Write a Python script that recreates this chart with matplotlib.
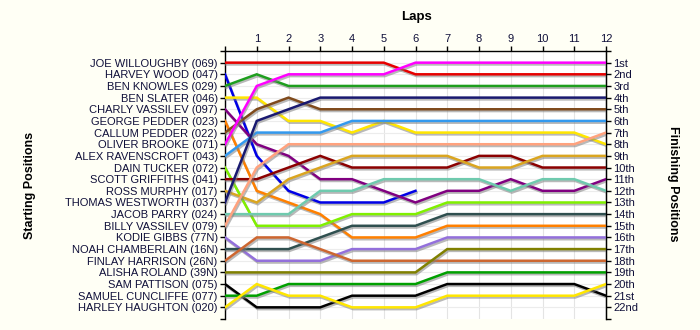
import numpy as np
import matplotlib

matplotlib.use("Agg")
import matplotlib.pyplot as plt
import matplotlib.patheffects as pe

nan = np.nan

laps = list(range(13))

drivers = [
    "JOE WILLOUGHBY (069)", "HARVEY WOOD (047)", "BEN KNOWLES (029)",
    "BEN SLATER (046)", "CHARLY VASSILEV (097)", "GEORGE PEDDER (023)",
    "CALLUM PEDDER (022)", "OLIVER BROOKE (071)", "ALEX RAVENSCROFT (043)",
    "DAIN TUCKER (072)", "SCOTT GRIFFITHS (041)", "ROSS MURPHY (017)",
    "THOMAS WESTWORTH (037)", "JACOB PARRY (024)", "BILLY VASSILEV (079)",
    "KODIE GIBBS (77N)", "NOAH CHAMBERLAIN (16N)", "FINLAY HARRISON (26N)",
    "ALISHA ROLAND (39N)", "SAM PATTISON (075)", "SAMUEL CUNCLIFFE (077)",
    "HARLEY HAUGHTON (020)",
]

colours = [
    "#e60000", "#0000e6", "#1e9e1e", "#ffe600", "#800080", "#ff8000",
    "#7f4a1c", "#ff00ff", "#3399ee", "#80f000", "#8b0000", "#daa520",
    "#191970", "#6fcaae", "#ffa27e", "#9370db", "#2f4f4f", "#cd6630",
    "#808000", "#000000", "#00a000", "#ffe600",
]

# running position of each driver, lap 0 (grid) to lap 12
positions = [
    [1, 1, 1, 1, 1, 1, 2, 2, 2, 2, 2, 2, 2],
    [2, 9, 12, 13, 13, 13, 12, nan, nan, nan, nan, nan, nan],
    [3, 2, 3, 3, 3, 3, 3, 3, 3, 3, 3, 3, 3],
    [4, 4, 6, 6, 7, 6, 7, 7, 7, 7, 7, 7, 8],
    [5, 8, 9, 11, 11, 12, 13, 12, 12, 11, 12, 12, 11],
    [6, 12, 13, 14, 16, 16, 16, 15, 15, 15, 15, 15, 15],
    [7, 5, 4, 5, 5, 5, 5, 5, 5, 5, 5, 5, 5],
    [8, 3, 2, 2, 2, 2, 1, 1, 1, 1, 1, 1, 1],
    [9, 7, 7, 7, 6, 6, 6, 6, 6, 6, 6, 6, 6],
    [10, 15, 15, 15, 14, 14, 14, 13, 13, 13, 13, 13, 13],
    [11, 11, 10, 9, 10, 10, 10, 10, 9, 9, 10, 10, 10],
    [12, 13, 11, 10, 9, 9, 9, 9, 10, 10, 9, 9, 9],
    [13, 6, 5, 4, 4, 4, 4, 4, 4, 4, 4, 4, 4],
    [14, 14, 14, 12, 12, 11, 11, 11, 11, 12, 11, 11, 12],
    [15, 10, 8, 8, 8, 8, 8, 8, 8, 8, 8, 8, 7],
    [16, 18, 18, 18, 17, 17, 17, 16, 16, 16, 16, 16, 16],
    [17, 17, 17, 16, 15, 15, 15, 14, 14, 14, 14, 14, 14],
    [18, 16, 16, 17, 18, 18, 18, 18, 18, 18, 18, 18, 18],
    [19, 19, 19, 19, 19, 19, 19, 17, 17, 17, 17, 17, 17],
    [20, 22, 22, 22, 21, 21, 21, 20, 20, 20, 20, 20, 21],
    [21, 21, 20, 20, 20, 20, 20, 19, 19, 19, 19, 19, 19],
    [22, 20, 21, 21, 22, 22, 22, 21, 21, 21, 21, 21, 20],
]

finish_labels = [
    "1st", "2nd", "3rd", "4th", "5th", "6th", "7th", "8th", "9th", "10th",
    "11th", "12th", "13th", "14th", "15th", "16th", "17th", "18th", "19th",
    "20th", "21st", "22nd",
]

BG = "#fffff5"
TXT = "#10103a"
TICK = dict(direction="out", length=3.8, width=1, labelsize=8,
            labelcolor=TXT, pad=1.5)
plt.rcParams["font.family"] = ["Liberation Sans", "DejaVu Sans"]

fig = plt.figure(figsize=(7.0, 3.3), dpi=100, facecolor=BG)
ax = fig.add_axes([225 / 700, 1 - 319 / 330, 381 / 700, 268 / 330])
ax.set_facecolor("white")

n = len(drivers)
ax.set_xlim(0, 12)
ax.set_ylim(n + 1, 0)

shadow = [pe.SimpleLineShadow(offset=(0.8, -1.3), shadow_color="#808080",
                              alpha=0.55), pe.Normal()]
for pos, col in zip(positions, colours):
    ax.plot(laps, pos, color=col, lw=1.8, solid_joinstyle="miter",
            path_effects=shadow, zorder=3)

# grid
for x in laps:
    ax.axvline(x, color="#e4e4e4", lw=0.8, zorder=1)
for y in range(1, n + 1):
    ax.axhline(y, color="#ececec", lw=0.8, zorder=1)

ax.spines["bottom"].set_visible(False)
for side in ("left", "right", "top"):
    ax.spines[side].set_linewidth(1.0)

ax.xaxis.tick_top()
ax.set_xticks(laps)
ax.set_xticklabels([""] + [str(l) for l in laps[1:]])
ax.tick_params(axis="x", which="both", **TICK)

ax.set_yticks(range(1, n + 1))
ax.set_yticklabels(drivers)
ax.set_yticks([0, n + 1], minor=True)
ax.tick_params(axis="y", which="both", **TICK)

rax = ax.twinx()
rax.set_ylim(n + 1, 0)
rax.set_yticks(range(1, n + 1))
rax.set_yticklabels(finish_labels)
rax.set_yticks([0, n + 1], minor=True)
rax.tick_params(axis="y", which="both", **TICK)
for side in ("bottom", "left", "top"):
    rax.spines[side].set_visible(False)

fig.text(417 / 700, 1 - 17 / 330, "Laps", ha="center", va="center",
         fontsize=9.5, weight="bold")
fig.text(30 / 700, 1 - 185 / 330, "Starting Positions", rotation=90,
         ha="center", va="center", fontsize=9, weight="bold")
fig.text(673 / 700, 1 - 184 / 330, "Finishing Positions", rotation=-90,
         ha="center", va="center", fontsize=9, weight="bold")

fig.savefig("out.png", dpi=100, facecolor=BG)
